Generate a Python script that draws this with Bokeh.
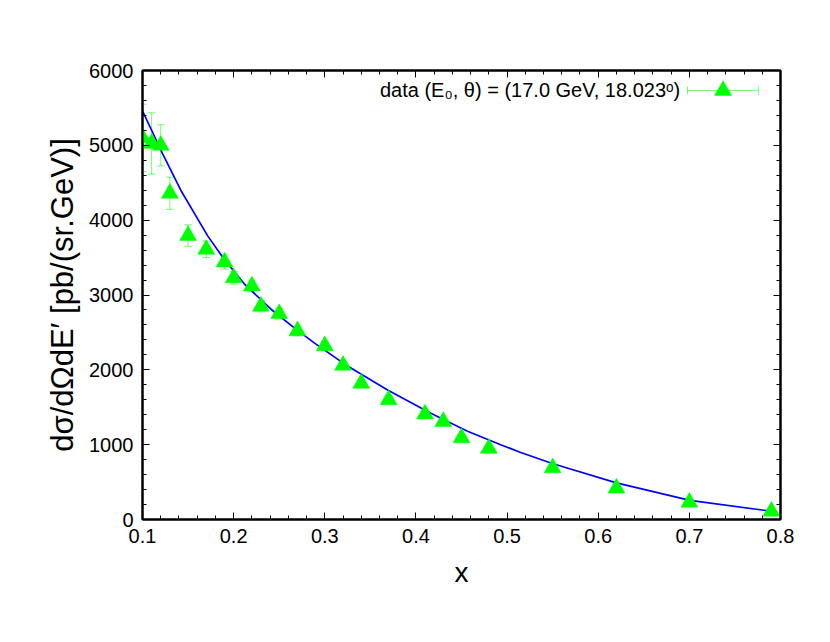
from bokeh.plotting import figure
from bokeh.models import (Range1d, LinearAxis, SingleIntervalTicker, Whisker,
                          TeeHead, ColumnDataSource, CustomLabelingPolicy)
from bokeh.embed import file_html
from bokeh.resources import INLINE
from bokeh.core.properties import value

# ---- data ----
X_DATA = [0.10, 0.11, 0.12, 0.13, 0.15, 0.17, 0.19, 0.20, 0.22, 0.23, 0.25, 0.27,
          0.30, 0.32, 0.34, 0.37, 0.41, 0.43, 0.45, 0.48, 0.55, 0.62, 0.70, 0.79]
Y_DATA = [5100, 5025, 5000, 4360, 3795, 3610, 3440, 3230, 3120, 2850, 2750, 2520,
          2320, 2060, 1820, 1600, 1410, 1310, 1090, 950, 690, 420, 230, 110]
Y_ERR = [450, 410, 275, 215, 143, 110, 95, 85, 80, 75, 70, 65,
         60, 55, 50, 45, 40, 38, 35, 30, 25, 20, 15, 10]

CURVE_X = [0.100, 0.122, 0.142, 0.1715, 0.190, 0.2116, 0.241, 0.2665, 0.2884, 0.325,
           0.3689, 0.4163, 0.4566, 0.493, 0.515, 0.5504, 0.620, 0.7007, 0.7965]
CURVE_Y = [5460, 4890, 4400, 3790, 3470, 3150, 2810, 2560, 2360, 2050,
           1730, 1420, 1180, 1000, 895, 745, 490, 255, 100]

LEGEND_LABEL = "data (E\u2080, \u03b8) = (17.0 GeV, 18.023\u1d52)"
LEGEND_TEXT_X = [0.690]
LEGEND_Y = [5733]
LEGEND_LINE_X0 = [0.698]
LEGEND_LINE_X1 = [0.776]
LEGEND_MARK_X = [0.737]

X_LABEL = "x"
Y_LABEL = "d\u03c3/d\u03a9dE\u2032 [pb/(sr.GeV)]"

FONT = "Liberation Sans"
GREEN = "#00ff00"
BLUE = "#0000ff"

p = figure(frame_width=638, frame_height=449,
           x_range=Range1d(0.1, 0.8), y_range=Range1d(0, 6000),
           output_backend="svg", toolbar_location=None,
           min_border_left=142, min_border_right=42,
           min_border_top=70, min_border_bottom=90)

p.xgrid.visible = False
p.ygrid.visible = False
p.outline_line_color = "black"
p.outline_line_width = 2
p.background_fill_color = "white"
p.border_fill_color = "white"

HIDE_ALL = CustomLabelingPolicy(code="""
    for (const i of indices) { indices.unset(i) }
    return indices
""")


def style_axis(ax, labels=True):
    ax.axis_line_width = 2
    ax.axis_line_color = "black"
    ax.major_tick_in = 7
    ax.major_tick_out = 0
    ax.minor_tick_in = 4
    ax.minor_tick_out = 0
    ax.major_tick_line_color = "black"
    ax.minor_tick_line_color = "black"
    ax.major_tick_line_width = 1
    ax.minor_tick_line_width = 1
    if labels:
        ax.major_label_text_font = FONT
        ax.major_label_text_font_size = "20px"
        ax.major_label_text_color = "black"
        ax.axis_label_text_font = FONT
        ax.axis_label_text_font_style = "normal"
        ax.axis_label_text_color = "black"
    else:
        ax.major_label_text_font_size = "1px"
        ax.major_label_standoff = 0
        ax.major_label_policy = HIDE_ALL


xt = SingleIntervalTicker(interval=0.1, num_minor_ticks=5)
yt = SingleIntervalTicker(interval=1000, num_minor_ticks=5)

p.xaxis.ticker = xt
p.yaxis.ticker = yt
p.xaxis.axis_label = X_LABEL
p.yaxis.axis_label = Y_LABEL
style_axis(p.xaxis[0])
style_axis(p.yaxis[0])
p.xaxis.axis_label_text_font_size = "28px"
p.yaxis.axis_label_text_font_size = "31px"
p.xaxis.major_label_standoff = 9
p.yaxis.major_label_standoff = 9
p.xaxis.axis_label_standoff = 11
p.yaxis.axis_label_standoff = 6

top = LinearAxis(ticker=SingleIntervalTicker(interval=0.1, num_minor_ticks=5))
style_axis(top, labels=False)
p.add_layout(top, "above")
right = LinearAxis(ticker=SingleIntervalTicker(interval=1000, num_minor_ticks=5))
style_axis(right, labels=False)
p.add_layout(right, "right")

# fitted curve
p.line(CURVE_X, CURVE_Y, line_color=BLUE, line_width=1.7)

# data with error bars
src = ColumnDataSource(dict(
    x=X_DATA, y=Y_DATA,
    lo=[y - e for y, e in zip(Y_DATA, Y_ERR)],
    hi=[y + e for y, e in zip(Y_DATA, Y_ERR)],
))
wh = Whisker(source=src, base="x", lower="lo", upper="hi", dimension="height",
             line_color=GREEN, line_alpha=0.55, line_width=1,
             lower_head=TeeHead(size=8, line_color=GREEN, line_alpha=0.55, line_width=1),
             upper_head=TeeHead(size=8, line_color=GREEN, line_alpha=0.55, line_width=1))
p.add_layout(wh)
p.scatter("x", "y", source=src, marker="triangle", size=17,
          fill_color=GREEN, line_color=GREEN, line_width=0.5)

# legend (text left of sample, gnuplot style)
p.text(x=LEGEND_TEXT_X, y=LEGEND_Y, text=[LEGEND_LABEL],
       text_font=value(FONT), text_font_size="20px", text_color="black",
       text_align="right", text_baseline="middle")
lsrc = ColumnDataSource(dict(y=LEGEND_Y, x0=LEGEND_LINE_X0, x1=LEGEND_LINE_X1))
lwh = Whisker(source=lsrc, base="y", lower="x0", upper="x1", dimension="width",
              line_color=GREEN, line_alpha=0.55, line_width=1,
              lower_head=TeeHead(size=8, line_color=GREEN, line_alpha=0.55, line_width=1),
              upper_head=TeeHead(size=8, line_color=GREEN, line_alpha=0.55, line_width=1))
p.add_layout(lwh)
p.scatter(x=LEGEND_MARK_X, y=LEGEND_Y, marker="triangle", size=17,
          fill_color=GREEN, line_color=GREEN, line_width=0.5)

open("out.html", "w").write(file_html(p, INLINE))
